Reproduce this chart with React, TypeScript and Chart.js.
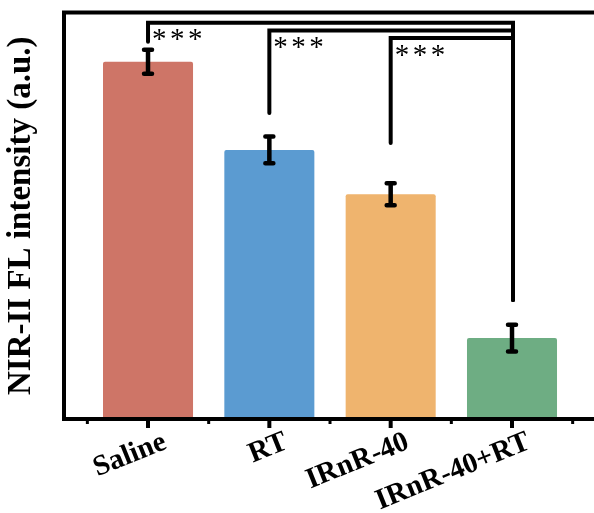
import React, { useEffect, useRef } from 'react';
import { Chart, registerables } from 'chart.js';

Chart.register(...registerables);

const categories = ['Saline', 'RT', 'IRnR-40', 'IRnR-40+RT'];
const means = [87.9, 66.2, 55.3, 19.9];
const errors = [2.95, 3.3, 2.7, 3.3];
const barColors = ['#CE7567', '#5B9BD1', '#EFB46E', '#6EAD83'];

// significance brackets
const bracketFrom = [0, 1, 2];
const bracketTo = [3, 3, 3];
const bracketLevel = [97.5, 95.6, 93.7];
const bracketLeftEnd = [92.8, 75.3, 67.9];
const bracketRightEnd = [29.3, 29.3, 29.3];
const bracketLabels = ['***', '***', '***'];

const yTitle = 'NIR-II FL intensity (a.u.)';
const yMin = 0;
const yMax = 100;
const xMin = -0.6925;
const xMax = 3.75;

const SERIF = "'Liberation Serif', 'Times New Roman', serif";

const decorPlugin = {
  id: 'decor',
  afterDatasetsDraw(chart: any) {
    const { ctx, chartArea } = chart;
    const xs = chart.scales.x;
    const ys = chart.scales.y;
    ctx.save();
    ctx.strokeStyle = '#000';
    ctx.fillStyle = '#000';

    // error bars
    ctx.lineWidth = 4.5;
    for (let i = 0; i < means.length; i++) {
      const x = xs.getPixelForValue(i);
      const yt = ys.getPixelForValue(means[i] + errors[i]);
      const yb = ys.getPixelForValue(means[i] - errors[i]);
      ctx.lineCap = 'butt';
      ctx.beginPath();
      ctx.moveTo(x, yt);
      ctx.lineTo(x, yb);
      ctx.stroke();
      ctx.lineCap = 'round';
      ctx.beginPath();
      ctx.moveTo(x - 4, yt);
      ctx.lineTo(x + 4, yt);
      ctx.moveTo(x - 4, yb);
      ctx.lineTo(x + 4, yb);
      ctx.stroke();
    }

    // significance brackets
    ctx.lineWidth = 4;
    ctx.lineJoin = 'miter';
    ctx.lineCap = 'round';
    for (let k = 0; k < bracketFrom.length; k++) {
      const x1 = xs.getPixelForValue(bracketFrom[k]);
      const x2 = xs.getPixelForValue(bracketTo[k]) + 1;
      const yl = ys.getPixelForValue(bracketLevel[k]);
      ctx.beginPath();
      ctx.moveTo(x1, ys.getPixelForValue(bracketLeftEnd[k]));
      ctx.lineTo(x1, yl);
      ctx.lineTo(x2, yl);
      ctx.lineTo(x2, ys.getPixelForValue(bracketRightEnd[k]));
      ctx.stroke();

      // stars
      ctx.font = `29px ${SERIF}`;
      const m = ctx.measureText('*');
      const gw = m.actualBoundingBoxLeft + m.actualBoundingBoxRight;
      const gh = m.actualBoundingBoxAscent + m.actualBoundingBoxDescent;
      const cy = yl + 12;
      const stars = bracketLabels[k].split('');
      stars.forEach((s, j) => {
        const cx = x1 + 11.5 + j * 18;
        ctx.textAlign = 'left';
        ctx.textBaseline = 'alphabetic';
        ctx.fillText(
          s,
          cx - gw / 2 + m.actualBoundingBoxLeft,
          cy + gh / 2 - m.actualBoundingBoxDescent
        );
      });
    }

    // axis frame
    ctx.lineWidth = 4;
    ctx.lineCap = 'square';
    ctx.beginPath();
    ctx.moveTo(chartArea.right + 10, chartArea.top);
    ctx.lineTo(chartArea.left, chartArea.top);
    ctx.lineTo(chartArea.left, chartArea.bottom);
    ctx.lineTo(chartArea.right + 10, chartArea.bottom);
    ctx.stroke();

    // tick marks (major at categories, minor between)
    ctx.lineCap = 'butt';
    for (let v = Math.ceil(xMin * 2) / 2; v <= xMax; v += 0.5) {
      const major = Math.abs(v - Math.round(v)) < 1e-6;
      const px = xs.getPixelForValue(v);
      ctx.lineWidth = major ? 4 : 3;
      ctx.beginPath();
      ctx.moveTo(px, chartArea.bottom);
      ctx.lineTo(px, chartArea.bottom + (major ? 9 : 5));
      ctx.stroke();
    }
    ctx.restore();
  },
};

export default function App() {
  const ref = useRef<HTMLCanvasElement | null>(null);

  useEffect(() => {
    if (!ref.current) return;
    const chart = new Chart(ref.current, {
      type: 'bar',
      data: {
        datasets: [
          {
            data: means.map((v, i) => ({ x: i, y: v })),
            backgroundColor: barColors,
            borderWidth: 0,
            borderRadius: 2,
            borderSkipped: 'bottom',
            barPercentage: 0.742,
            categoryPercentage: 1,
          },
        ],
      },
      options: {
        animation: false,
        responsive: true,
        maintainAspectRatio: false,
        layout: { padding: { top: 12.5, left: 0, right: 0, bottom: 0 } },
        plugins: {
          legend: { display: false },
          tooltip: { enabled: false },
        },
        scales: {
          x: {
            type: 'linear',
            offset: false,
            min: xMin,
            max: xMax,
            grid: { display: false, drawTicks: false, offset: false },
            border: { display: false },
            afterBuildTicks: (scale: any) => {
              scale.ticks = categories.map((_, i) => ({ value: i }));
            },
            afterFit: (scale: any) => {
              scale.height = 94;
            },
            ticks: {
              autoSkip: false,
              minRotation: 22,
              maxRotation: 22,
              padding: 6,
              labelOffset: 17,
              color: '#000',
              font: { family: SERIF, weight: 'bold', size: 29 },
              callback: (v: any) => categories[Math.round(Number(v))] ?? '',
            },
          },
          y: {
            type: 'linear',
            min: yMin,
            max: yMax,
            grid: { display: false, drawTicks: false },
            border: { display: false },
            ticks: { display: false },
            afterFit: (scale: any) => {
              scale.width = 64;
            },
            title: {
              display: true,
              text: yTitle,
              color: '#000',
              font: { family: SERIF, weight: 'bold', size: 33, lineHeight: 1.2 },
              padding: { top: 2, bottom: 0 },
            },
          },
        },
      },
      plugins: [decorPlugin],
    } as any);
    return () => chart.destroy();
  }, []);

  return (
    <div
      style={{
        position: 'absolute',
        left: 0,
        top: 0,
        width: 594,
        height: 513,
        overflow: 'hidden',
        background: '#fff',
      }}
    >
      <div style={{ position: 'relative', width: 603, height: 513 }}>
        <canvas ref={ref} />
      </div>
    </div>
  );
}
